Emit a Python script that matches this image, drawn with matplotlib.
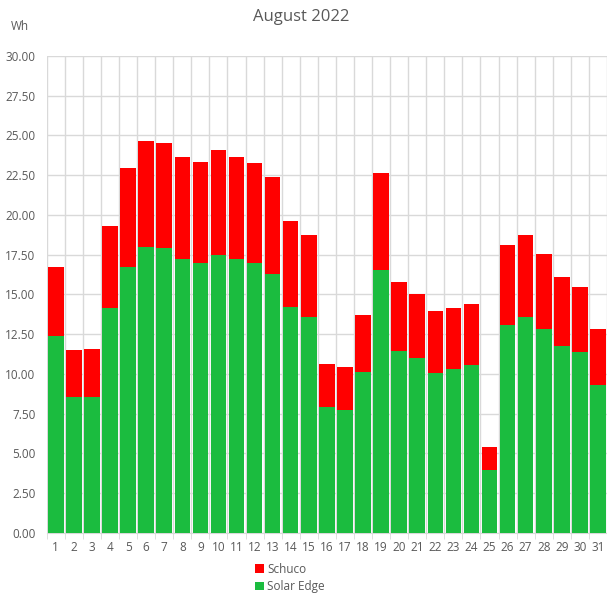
import matplotlib.pyplot as plt
import numpy as np

# daily yield, August 2022
days = [str(d) for d in range(1, 32)]
solar_edge = [12.4, 8.55, 8.55, 14.15, 16.75, 18.0, 17.9, 17.25, 17.0, 17.5,
              17.25, 17.0, 16.3, 14.2, 13.6, 7.9, 7.75, 10.15, 16.55, 11.45,
              11.0, 10.05, 10.3, 10.55, 3.95, 13.1, 13.55, 12.8, 11.75, 11.4, 9.3]
total = [16.75, 11.5, 11.55, 19.3, 22.95, 24.65, 24.55, 23.65, 23.35, 24.1,
         23.65, 23.3, 22.4, 19.6, 18.75, 10.65, 10.45, 13.7, 22.65, 15.8,
         15.05, 13.95, 14.15, 14.4, 5.4, 18.1, 18.75, 17.55, 16.1, 15.45, 12.85]
schuco = [t - s for t, s in zip(total, solar_edge)]

green = '#1bbc3f'
red = '#ff0000'
txt = '#595959'
plt.rcParams['font.family'] = ['Open Sans', 'DejaVu Sans']

fig = plt.figure(figsize=(6.07, 5.96), dpi=100)
ax = fig.add_axes([0.077, 0.106, 0.923, 0.800])

x = np.arange(len(days))
ax.bar(x, solar_edge, width=0.86, color=green, label='Solar Edge', zorder=3)
ax.bar(x, schuco, bottom=solar_edge, width=0.86, color=red, label='Schuco', zorder=3)

ax.set_xlim(-0.5, len(days) - 0.5)
ax.set_ylim(0, 30)
ax.set_yticks(np.arange(0, 30.01, 2.5))
ax.set_yticklabels(['%.2f' % v for v in np.arange(0, 30.01, 2.5)])
ax.set_xticks(x)
ax.set_xticklabels(days)
ax.set_xticks(np.arange(-0.5, len(days)), minor=True)

ax.grid(axis='y', color='#d9d9d9', linewidth=1, zorder=0)
ax.grid(axis='x', which='minor', color='#d9d9d9', linewidth=1, zorder=0)
ax.tick_params(axis='x', which='major', length=0, pad=6, labelsize=8.5, colors=txt)
ax.tick_params(axis='x', which='minor', length=4, color='#d9d9d9')
ax.tick_params(axis='y', length=0, pad=8, labelsize=8.5, colors=txt)
for s in ['top', 'right', 'left']:
    ax.spines[s].set_visible(False)
ax.spines['bottom'].set_color('#d9d9d9')

fig.text(0.497, 0.971, 'August 2022', ha='center', va='center', fontsize=12, color=txt)
fig.text(0.033, 0.955, 'Wh', ha='center', va='center', fontsize=8.5, color=txt)

h, l = ax.get_legend_handles_labels()
fig.legend(h[::-1], l[::-1], loc='center', bbox_to_anchor=(0.478, 0.03), ncol=1,
           frameon=False, fontsize=8.5, labelcolor=txt, handlelength=0.7,
           handleheight=0.7, handletextpad=0.3, labelspacing=0.4)

fig.savefig('out.png')
